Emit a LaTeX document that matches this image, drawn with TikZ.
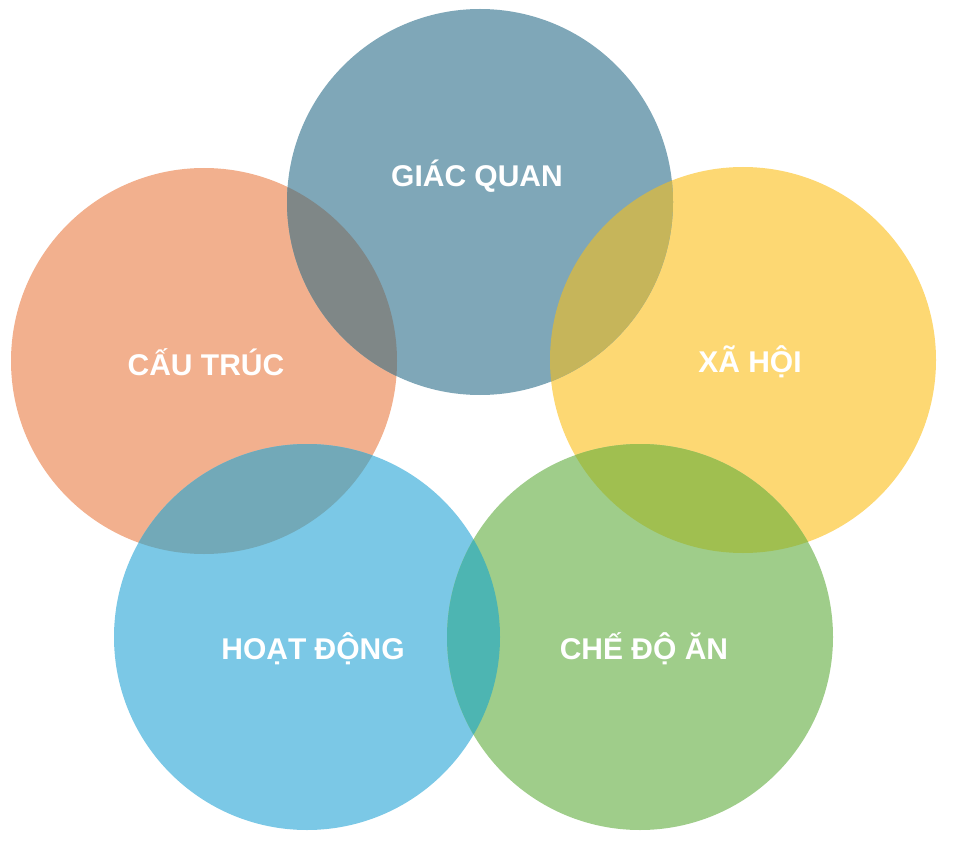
\documentclass[tikz,border=0pt]{standalone}
\usepackage{fontspec}
\setmainfont{Liberation Sans}
\begin{document}
\begin{tikzpicture}[x=1pt,y=-1pt,
  lbl/.style={text=white,font=\bfseries\fontsize{30}{34}\selectfont}]
\useasboundingbox (0,0) rectangle (955,850);
\def\R{193}
\definecolor{cTop}{HTML}{7FA7B8}
\definecolor{cOr}{HTML}{F2B08E}
\definecolor{cYe}{HTML}{FDD873}
\definecolor{cLb}{HTML}{7BC8E6}
\definecolor{cGr}{HTML}{9FCD8A}
\definecolor{xTO}{HTML}{7F8787}
\definecolor{xTY}{HTML}{C6B55A}
\definecolor{xOL}{HTML}{72A9B8}
\definecolor{xLG}{HTML}{4DB5B2}
\definecolor{xYG}{HTML}{A0BF50}
\coordinate (t) at (480,202);
\coordinate (o) at (204,361);
\coordinate (y) at (743,360);
\coordinate (l) at (307,637);
\coordinate (g) at (640,637);
\fill[cOr] (o) circle (\R);
\fill[cYe] (y) circle (\R);
\fill[cLb] (l) circle (\R);
\fill[cGr] (g) circle (\R);
\fill[cTop] (t) circle (\R);
\begin{scope}\clip (t) circle (\R); \fill[xTO] (o) circle (\R); \fill[xTY] (y) circle (\R);\end{scope}
\begin{scope}\clip (o) circle (\R); \fill[xOL] (l) circle (\R);\end{scope}
\begin{scope}\clip (l) circle (\R); \fill[xLG] (g) circle (\R);\end{scope}
\begin{scope}\clip (y) circle (\R); \fill[xYG] (g) circle (\R);\end{scope}
\node[lbl] (nt) at (477,176) {GIÁC QUAN};
\node[lbl] (no) at (206,362) {CẤU TRÚC};
\node[lbl] (ny) at (750,362) {XÃ HỘI};
\node[lbl] (nl) at (313,649) {HOẠT ĐỘNG};
\node[lbl] (ng) at (644,649) {CHẾ ĐỘ ĂN};
\end{tikzpicture}
\end{document}
